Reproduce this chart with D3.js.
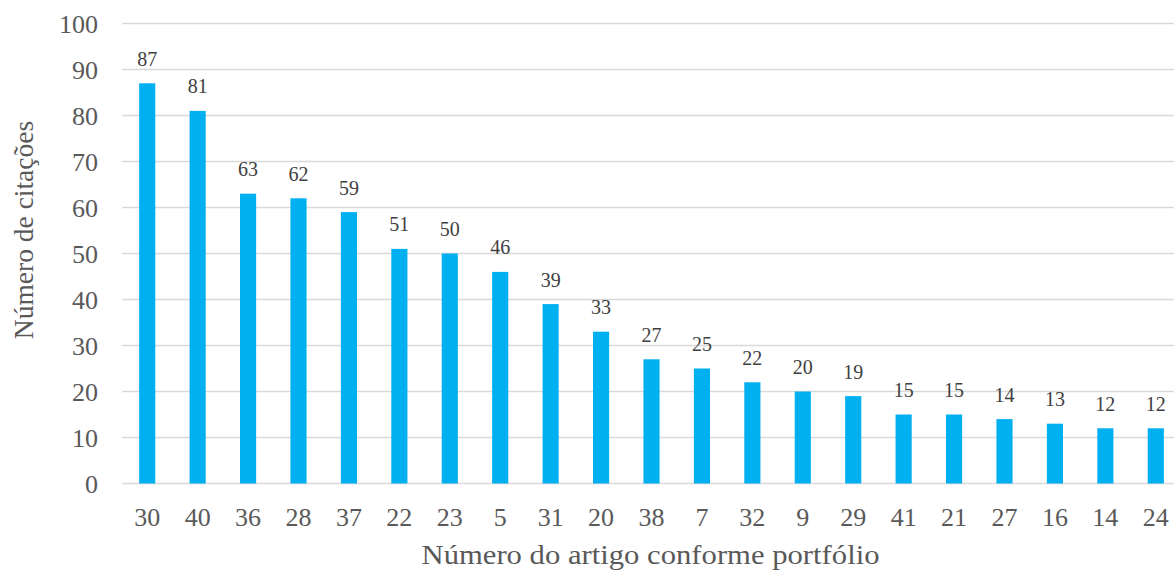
<!DOCTYPE html>
<html>
<head>
<meta charset="utf-8">
<script src="https://cdn.jsdelivr.net/npm/d3@7"></script>
<style>
  body { margin: 0; background: #fff; }
  svg { display: block; }
  svg text { font-family: "Liberation Serif", "Times New Roman", serif; }
</style>
</head>
<body>
<div id="chart"></div>
<script>
// article numbers (x axis) and citation counts
const artigos = ['30', '40', '36', '28', '37', '22', '23', '5', '31', '20', '38', '7', '32', '9', '29', '41', '21', '27', '16', '14', '24'];
const citacoes = [87, 81, 63, 62, 59, 51, 50, 46, 39, 33, 27, 25, 22, 20, 19, 15, 15, 14, 13, 12, 12];
const yTicks = [0, 10, 20, 30, 40, 50, 60, 70, 80, 90, 100];

const width = 1174, height = 572;
const margin = { top: 23.5, right: -7, bottom: 88.5, left: 122 };

const svg = d3.select('#chart').append('svg')
  .attr('width', width)
  .attr('height', height);

const x = d3.scaleBand()
  .domain(artigos)
  .range([margin.left, width - margin.right])
  .paddingInner(0.68)
  .paddingOuter(0.34);

const y = d3.scaleLinear()
  .domain([0, 100])
  .range([height - margin.bottom, margin.top]);

// gridlines
svg.append('g')
  .selectAll('line')
  .data(yTicks)
  .enter()
  .append('line')
  .attr('x1', margin.left)
  .attr('x2', width)
  .attr('y1', d => y(d))
  .attr('y2', d => y(d))
  .style('stroke', '#d9d9d9')
  .style('stroke-width', 1.5);

// y axis labels
const yAxis = svg.append('g')
  .attr('transform', 'translate(' + (margin.left - 24) + ',0)')
  .call(d3.axisLeft(y).tickValues(yTicks).tickSize(0).tickPadding(0));
yAxis.attr('font-family', null).attr('font-size', null);
yAxis.select('.domain').remove();
yAxis.selectAll('text')
  .attr('dy', '0.34em')
  .style('font-size', '26px')
  .style('fill', '#595959');

// x axis labels
const xAxis = svg.append('g')
  .attr('transform', 'translate(0,' + y(0) + ')')
  .call(d3.axisBottom(x).tickSize(0).tickPadding(0));
xAxis.attr('font-family', null).attr('font-size', null);
xAxis.select('.domain').remove();
xAxis.selectAll('text')
  .attr('y', 42)
  .attr('dy', 0)
  .style('font-size', '26px')
  .style('fill', '#595959');

// bars
svg.append('g')
  .selectAll('rect')
  .data(citacoes)
  .enter()
  .append('rect')
  .attr('x', (d, i) => x(artigos[i]))
  .attr('y', d => y(d))
  .attr('width', x.bandwidth())
  .attr('height', d => y(0) - y(d))
  .style('fill', '#00b0f0');

// value labels
svg.append('g')
  .selectAll('text')
  .data(citacoes)
  .enter()
  .append('text')
  .attr('x', (d, i) => x(artigos[i]) + x.bandwidth() / 2)
  .attr('y', d => y(d) - 17.5)
  .attr('text-anchor', 'middle')
  .style('font-size', '20px')
  .style('fill', '#404040')
  .text(d => d);

// axis titles
svg.append('text')
  .attr('x', 650.5)
  .attr('y', 564)
  .attr('text-anchor', 'middle')
  .attr('textLength', 458)
  .attr('lengthAdjust', 'spacingAndGlyphs')
  .style('font-size', '28px')
  .style('fill', '#595959')
  .text('Número do artigo conforme portfólio');

svg.append('text')
  .attr('transform', 'translate(33,230) rotate(-90)')
  .attr('text-anchor', 'middle')
  .style('font-size', '27.5px')
  .style('fill', '#595959')
  .text('Número de citações');
</script>
</body>
</html>
